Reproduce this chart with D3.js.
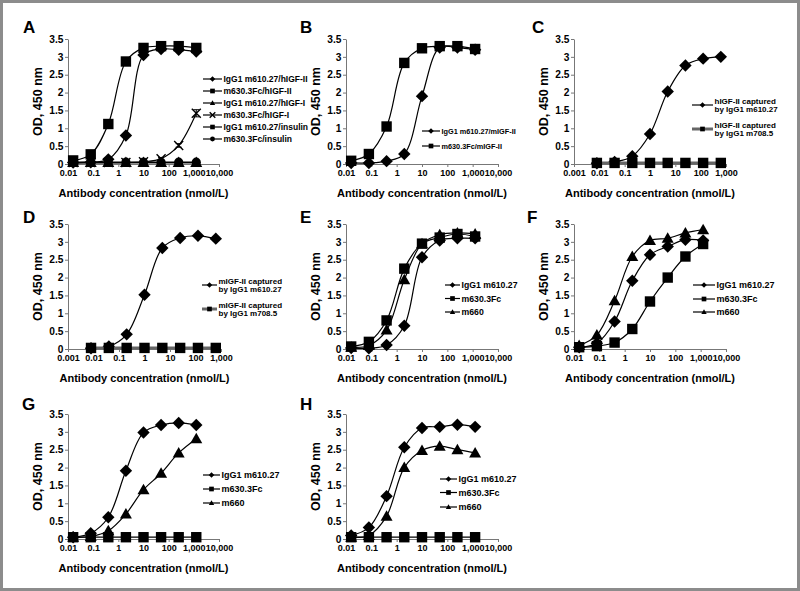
<!DOCTYPE html>
<html><head><meta charset="utf-8">
<script src="https://cdn.jsdelivr.net/npm/d3@7"></script>
<style>
body{margin:0;background:#fff}
svg{display:block;font-family:"Liberation Sans",Arial,sans-serif;font-weight:bold}
</style>
</head><body>
<svg id="chart" width="800" height="591"></svg>
<script>
// ---------- DATA ----------
const concMain = [0.016, 0.08, 0.4, 2, 10, 50, 250, 1250];
const concCapture = [0.008, 0.04, 0.2, 1, 5, 25, 125, 625];
const yTickValues = [0, 0.5, 1, 1.5, 2, 2.5, 3, 3.5];
const xTicksMain = [0.01, 0.1, 1, 10, 100, 1000, 10000];
const xTicksCapture = [0.001, 0.01, 0.1, 1, 10, 100, 1000];

// Panel A
const A_610_hIGF2 = [0.04, 0.05, 0.13, 0.80, 3.05, 3.22, 3.20, 3.15];
const A_630_hIGF2 = [0.10, 0.27, 1.12, 2.87, 3.25, 3.30, 3.30, 3.25];
const A_610_hIGF1 = [0.04, 0.04, 0.04, 0.04, 0.04, 0.04, 0.04, 0.04];
const A_630_hIGF1 = [0.04, 0.04, 0.04, 0.04, 0.06, 0.15, 0.52, 1.42];
const A_630_hIGF1_err = [0, 0, 0, 0, 0, 0.03, 0.05, 0.10];
const A_610_ins = [0.04, 0.04, 0.04, 0.04, 0.04, 0.04, 0.04, 0.04];
const A_630_ins = [0.05, 0.05, 0.05, 0.05, 0.05, 0.05, 0.05, 0.05];
const A_labels = ["IgG1 m610.27/hIGF-II", "m630.3Fc/hIGF-II", "IgG1 m610.27/hIGF-I",
                  "m630.3Fc/hIGF-I", "IgG1 m610.27/insulin", "m630.3Fc/insulin"];
// Panel B
const B_610 = [0.03, 0.03, 0.08, 0.28, 1.90, 3.26, 3.26, 3.20];
const B_630 = [0.09, 0.28, 1.05, 2.83, 3.24, 3.30, 3.30, 3.22];
const B_labels = ["IgG1 m610.27/mIGF-II", "m630.3Fc/mIGF-II"];
// Panel C
const C_610 = [0.02, 0.06, 0.22, 0.84, 2.03, 2.76, 2.95, 3.00];
const C_708 = [0.03, 0.03, 0.03, 0.03, 0.03, 0.03, 0.03, 0.03];
const C_labels = [["hIGF-II captured", "by IgG1 m610.27"], ["hIGF-II captured", "by IgG1 m708.5"]];
// Panel D
const D_610 = [0.02, 0.07, 0.41, 1.52, 2.83, 3.11, 3.17, 3.09];
const D_708 = [0.03, 0.03, 0.03, 0.03, 0.03, 0.03, 0.03, 0.03];
const D_labels = [["mIGF-II captured", "by IgG1 m610.27"], ["mIGF-II captured", "by IgG1 m708.5"]];
// Panel E
const E_610 = [0.03, 0.02, 0.11, 0.65, 2.57, 3.04, 3.10, 3.10];
const E_630 = [0.07, 0.20, 0.80, 2.25, 2.95, 3.12, 3.22, 3.15];
const E_660 = [0.05, 0.10, 0.53, 1.94, 2.95, 3.20, 3.25, 3.22];
// Panel F
const F_610 = [0.05, 0.16, 0.77, 1.91, 2.64, 2.87, 3.06, 3.04];
const F_630 = [0.05, 0.08, 0.18, 0.56, 1.33, 2.00, 2.59, 2.94];
const F_660 = [0.10, 0.39, 1.35, 2.59, 3.04, 3.10, 3.25, 3.34];
// Panel G
const G_610 = [0.05, 0.16, 0.61, 1.91, 2.98, 3.19, 3.25, 3.19];
const G_630 = [0.05, 0.05, 0.05, 0.05, 0.05, 0.05, 0.05, 0.05];
const G_660 = [0.05, 0.07, 0.23, 0.70, 1.38, 1.84, 2.41, 2.81];
// Panel H
const H_610 = [0.10, 0.32, 1.20, 2.57, 3.11, 3.14, 3.20, 3.14];
const H_630 = [0.05, 0.05, 0.05, 0.05, 0.05, 0.05, 0.05, 0.05];
const H_660 = [0.05, 0.10, 0.64, 2.00, 2.48, 2.60, 2.50, 2.41];
const EFGH_labels = ["IgG1 m610.27", "m630.3Fc", "m660"];

const xTitle = "Antibody concentration (nmol/L)";
const yTitle = "OD, 450 nm";

// ---------- LAYOUT ----------
const panels = [
  {id:"A", x0:68, x1:219, yT:39, yB:164, dom:[0.01,10000], ticks:xTicksMain, conc:concMain, lx:23, ly:33,
   leg:{x:203, len:19, ys:[79,91,103,115,127,139], fs:8.5, text:A_labels},
   series:[{v:A_610_hIGF2,m:"diamond"},{v:A_630_hIGF2,m:"square"},{v:A_610_hIGF1,m:"triangle"},
           {v:A_630_hIGF1,m:"x",err:A_630_hIGF1_err},{v:A_610_ins,m:"smallsquare"},{v:A_630_ins,m:"circle"}]},
  {id:"B", x0:346, x1:498, yT:39, yB:164, dom:[0.01,10000], ticks:xTicksMain, conc:concMain, lx:300, ly:33,
   leg:{x:422, len:18, ys:[131,146], fs:7.3, text:B_labels},
   series:[{v:B_610,m:"diamond"},{v:B_630,m:"square"}]},
  {id:"C", x0:574, x1:726, yT:39, yB:164, dom:[0.001,1000], ticks:xTicksCapture, conc:concCapture, lx:532, ly:33,
   leg:{x:692, len:21, ys:[105,129], fs:8, text:C_labels},
   series:[{v:C_610,m:"diamond"},{v:C_708,m:"square",grey:true}]},
  {id:"D", x0:68, x1:221, yT:224, yB:349, dom:[0.001,1000], ticks:xTicksCapture, conc:concCapture, lx:23, ly:223,
   leg:{x:202, len:15, ys:[285,309], fs:8, text:D_labels},
   series:[{v:D_610,m:"diamond"},{v:D_708,m:"square",grey:true}]},
  {id:"E", x0:346, x1:498, yT:224, yB:349, dom:[0.01,10000], ticks:xTicksMain, conc:concMain, lx:300, ly:223,
   leg:{x:445, len:15, ys:[285,298.5,312], fs:8.7, text:EFGH_labels},
   series:[{v:E_610,m:"diamond"},{v:E_630,m:"square"},{v:E_660,m:"triangle"}]},
  {id:"F", x0:574, x1:726, yT:224, yB:349, dom:[0.01,10000], ticks:xTicksMain, conc:concMain, lx:527, ly:223,
   leg:{x:693, len:22, ys:[285,299,312], fs:9, text:EFGH_labels},
   series:[{v:F_610,m:"diamond"},{v:F_630,m:"square"},{v:F_660,m:"triangle"}]},
  {id:"G", x0:68, x1:219, yT:414, yB:539, dom:[0.01,10000], ticks:xTicksMain, conc:concMain, lx:22, ly:410,
   leg:{x:203, len:17, ys:[475,489,503], fs:9, text:EFGH_labels},
   series:[{v:G_610,m:"diamond"},{v:G_630,m:"square"},{v:G_660,m:"triangle"}]},
  {id:"H", x0:346, x1:498, yT:414, yB:539, dom:[0.01,10000], ticks:xTicksMain, conc:concMain, lx:300, ly:410,
   leg:{x:440, len:17, ys:[479,492.5,507], fs:9, text:EFGH_labels},
   series:[{v:H_610,m:"diamond"},{v:H_630,m:"square"},{v:H_660,m:"triangle"}]}
];

const svg = d3.select("#chart");
svg.append("rect").attr("x",1.5).attr("y",1.5).attr("width",797).attr("height",588)
  .attr("fill","#fff").attr("stroke","#8c8c8c").attr("stroke-width",3);

function drawMarker(g, type, cx, cy, big) {
  const k = big ? 1 : 0.45;
  if (type === "diamond") {
    const s = 6.2 * k;
    g.append("path").attr("d", `M${cx},${cy-s}L${cx+s},${cy}L${cx},${cy+s}L${cx-s},${cy}Z`).attr("fill","#000");
  } else if (type === "square") {
    const s = 5.2 * k;
    g.append("rect").attr("x",cx-s).attr("y",cy-s).attr("width",2*s).attr("height",2*s).attr("fill","#000");
  } else if (type === "smallsquare") {
    const s = (big ? 3 : 2.3);
    g.append("rect").attr("x",cx-s).attr("y",cy-s).attr("width",2*s).attr("height",2*s).attr("fill","#000");
  } else if (type === "triangle") {
    const s = 6 * k;
    g.append("path").attr("d", `M${cx},${cy-s}L${cx+s*1.0},${cy+s*0.75}L${cx-s*1.0},${cy+s*0.75}Z`).attr("fill","#000");
  } else if (type === "circle") {
    g.append("circle").attr("cx",cx).attr("cy",cy).attr("r", big ? 4.6 : 2.4).attr("fill","#000");
  } else if (type === "x") {
    const s = big ? 4.5 : 2.8;
    g.append("path").attr("d", `M${cx-s},${cy-s}L${cx+s},${cy+s}M${cx+s},${cy-s}L${cx-s},${cy+s}`)
      .attr("stroke","#000").attr("stroke-width",1.4).attr("fill","none");
  }
}

panels.forEach(p => {
  const g = svg.append("g");
  const x = d3.scaleLog().domain(p.dom).range([p.x0, p.x1]);
  const y = d3.scaleLinear().domain([0, 3.5]).range([p.yB, p.yT]);

  // axes
  const ya = g.append("g").attr("transform", `translate(${p.x0},0)`)
    .call(d3.axisLeft(y).tickValues(yTickValues).tickFormat(d3.format("")).tickSize(3).tickSizeOuter(0));
  ya.select(".domain").attr("stroke","#777");
  ya.selectAll(".tick line").attr("stroke","#777");
  ya.selectAll(".tick text").attr("font-size",10.2).attr("font-weight","bold")
    .attr("font-family","Liberation Sans, Arial, sans-serif").attr("fill","#000").attr("x",-4.5);

  const xa = g.append("g").attr("transform", `translate(0,${p.yB})`)
    .call(d3.axisBottom(x).tickValues(p.ticks).tickFormat(d3.format(",")).tickSize(3).tickSizeOuter(0));
  xa.select(".domain").attr("stroke","#777");
  xa.selectAll(".tick line").attr("stroke","#777");
  xa.selectAll(".tick text").attr("font-size",9).attr("font-weight","bold")
    .attr("font-family","Liberation Sans, Arial, sans-serif").attr("fill","#000").attr("y",6);

  // titles
  g.append("text").attr("x",(p.x0+p.x1)/2).attr("y",p.yB+33).attr("text-anchor","middle")
    .attr("font-size",11).text(xTitle);
  g.append("text").attr("transform",`translate(${p.x0-26},${(p.yT+p.yB)/2}) rotate(-90)`)
    .attr("text-anchor","middle").attr("font-size",12.5).text(yTitle);
  g.append("text").attr("x",p.lx).attr("y",p.ly).attr("font-size",17).text(p.id);

  // series
  const line = d3.line().x(d => x(d[0])).y(d => y(d[1])).curve(d3.curveCatmullRom.alpha(0.5));
  p.series.forEach(s => {
    const pts = p.conc.map((c,i) => [c, s.v[i]]);
    if (s.grey) {
      g.append("path").attr("d", line(pts)).attr("fill","none").attr("stroke","#666").attr("stroke-width",3);
    } else {
      g.append("path").attr("d", line(pts)).attr("fill","none").attr("stroke","#000").attr("stroke-width",1.2);
    }
    if (s.err) {
      pts.forEach((d,i) => {
        const e = s.err[i]; if (!e) return;
        const cx = x(d[0]);
        g.append("path").attr("d",`M${cx},${y(d[1]-e)}L${cx},${y(d[1]+e)}M${cx-3},${y(d[1]-e)}L${cx+3},${y(d[1]-e)}M${cx-3},${y(d[1]+e)}L${cx+3},${y(d[1]+e)}`)
          .attr("stroke","#000").attr("stroke-width",1).attr("fill","none");
      });
    }
    pts.forEach(d => drawMarker(g, s.m, x(d[0]), y(d[1]), true));
  });

  // legend
  p.series.forEach((s,i) => {
    const ly = p.leg.ys[i];
    g.append("line").attr("x1",p.leg.x).attr("x2",p.leg.x+p.leg.len).attr("y1",ly).attr("y2",ly)
      .attr("stroke", s.grey ? "#666" : "#000").attr("stroke-width", s.grey ? 3 : 1.2);
    drawMarker(g, s.m, p.leg.x + p.leg.len/2, ly, false);
    const t = p.leg.text[i];
    const tx = g.append("text").attr("x",p.leg.x+p.leg.len+1.5).attr("font-size",p.leg.fs);
    if (Array.isArray(t)) {
      tx.append("tspan").attr("x",p.leg.x+p.leg.len+1.5).attr("y",ly-1.5).text(t[0]);
      tx.append("tspan").attr("x",p.leg.x+p.leg.len+1.5).attr("y",ly+6.5).text(t[1]);
    } else {
      tx.attr("y", ly).attr("dy","0.35em").text(t);
    }
  });
});
</script>
</body></html>
